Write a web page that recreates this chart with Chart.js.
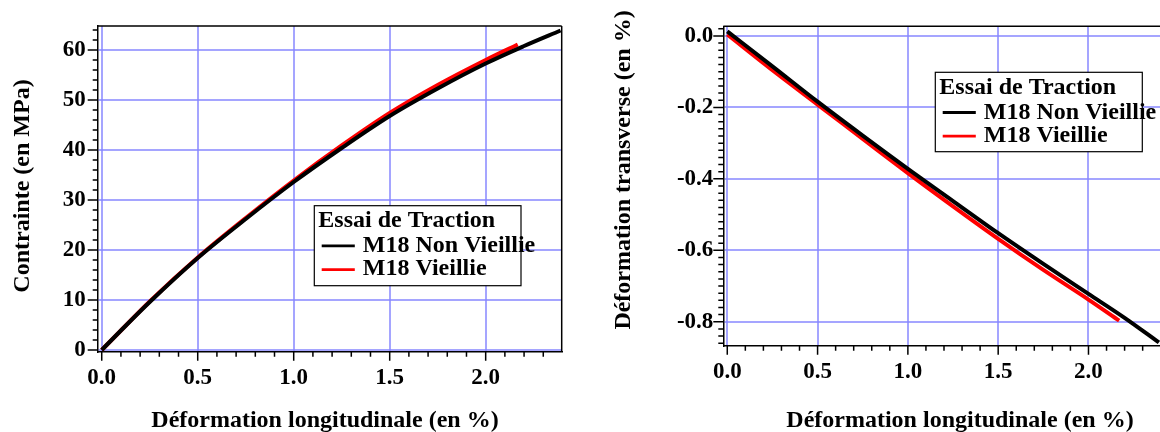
<!DOCTYPE html>
<html>
<head>
<meta charset="utf-8">
<script src="https://cdn.jsdelivr.net/npm/chart.js@4/dist/chart.umd.min.js"></script>
<style>
  html, body { margin: 0; padding: 0; background: #fff; }
  body { width: 1160px; height: 432px; position: relative; overflow: hidden; }
  .panel { position: absolute; top: 0; width: 580px; height: 432px; }
  #p1 { left: 0; }
  #p2 { left: 580px; }
</style>
</head>
<body>
<div class="panel" id="p1"><canvas id="c1" width="580" height="432"></canvas></div>
<div class="panel" id="p2"><canvas id="c2" width="580" height="432"></canvas></div>
<script>
// ---------- data ----------
const seriesNames = ['M18 Non Vieillie', 'M18 Vieillie'];
const legendTitle = 'Essai de Traction';
const xAxisTitle = 'Déformation longitudinale (en %)';
const leftYTitle = 'Contrainte (en MPa)';
const rightYTitle = 'Déformation transverse (en %)';

const xTickValues = [0, 0.5, 1, 1.5, 2];
const xTickLabels = ['0.0', '0.5', '1.0', '1.5', '2.0'];
const leftYTickValues = [0, 10, 20, 30, 40, 50, 60];
const leftYTickLabels = ['0', '10', '20', '30', '40', '50', '60'];
const rightYTickValues = [0, -0.2, -0.4, -0.6, -0.8];
const rightYTickLabels = ['0.0', '-0.2', '-0.4', '-0.6', '-0.8'];

// Left chart: stress vs longitudinal strain
const leftStrainNV = [0, 0.1, 0.25, 0.5, 0.75, 1.0, 1.25, 1.5, 1.75, 2.0, 2.2, 2.39];
const leftStressNV = [0, 3.9, 9.6, 18.4, 26.2, 33.6, 40.4, 46.8, 52.3, 57.3, 60.8, 63.9];
const leftStrainV  = [0, 0.1, 0.25, 0.5, 0.75, 1.0, 1.25, 1.5, 1.75, 2.0, 2.167];
const leftStressV  = [0, 3.9, 9.7, 18.5, 26.4, 33.9, 40.9, 47.4, 53.0, 58.0, 61.1];

// Right chart: transverse strain vs longitudinal strain
const rightStrainNV = [0, 0.25, 0.5, 0.75, 1.0, 1.25, 1.5, 1.75, 2.0, 2.2, 2.39];
const rightTransNV  = [0.013, -0.085, -0.184, -0.279, -0.372, -0.462, -0.552, -0.638, -0.722, -0.789, -0.858];
const rightStrainV  = [0, 0.25, 0.5, 0.75, 1.0, 1.25, 1.5, 1.75, 2.0, 2.17];
const rightTransV   = [0.004, -0.096, -0.192, -0.288, -0.384, -0.477, -0.568, -0.655, -0.738, -0.797];

const seriesColors = ['#000000', '#ff0000'];

// ---------- helpers ----------
const FONT_FAMILY = "'Liberation Serif', 'Times New Roman', serif";
const GRID_COLOR = 'rgba(135,135,255,0.75)';

function pts(xs, ys) { return xs.map((x, i) => ({ x: x, y: ys[i] })); }

const decorPlugin = {
  id: 'decor',
  afterDraw(chart, args, o) {
    const ctx = chart.ctx;
    const ca = chart.chartArea;
    const xs = chart.scales.x, ys = chart.scales.y;
    ctx.save();
    // frame (top / right)
    ctx.strokeStyle = '#000';
    ctx.lineWidth = 1.5;
    ctx.beginPath();
    ctx.moveTo(ca.left, ca.top); ctx.lineTo(ca.right, ca.top);
    if (o.rightBorder) { ctx.moveTo(ca.right, ca.top); ctx.lineTo(ca.right, ca.bottom); }
    ctx.stroke();
    // tick marks (major + minor)
    ctx.lineWidth = 1.5;
    ctx.beginPath();
    const kx0 = Math.ceil(xs.min / o.xMinor - 1e-9), kx1 = Math.floor(xs.max / o.xMinor + 1e-9);
    for (let k = kx0; k <= kx1; k++) {
      const px = xs.getPixelForValue(k * o.xMinor);
      const len = (k % o.xRatio === 0) ? 9 : 5;
      ctx.moveTo(px, ca.bottom); ctx.lineTo(px, ca.bottom + len);
    }
    const ky0 = Math.ceil(ys.min / o.yMinor - 1e-9), ky1 = Math.floor(ys.max / o.yMinor + 1e-9);
    for (let k = ky0; k <= ky1; k++) {
      const py = ys.getPixelForValue(k * o.yMinor);
      const len = (k % o.yRatio === 0) ? 10 : 5;
      ctx.moveTo(ca.left, py); ctx.lineTo(ca.left - len, py);
    }
    ctx.stroke();

    // axis titles
    ctx.fillStyle = '#000';
    ctx.font = 'bold 24px ' + FONT_FAMILY;
    ctx.textAlign = 'center';
    ctx.textBaseline = 'alphabetic';
    ctx.fillText(o.xTitle, o.xTitlePos[0], o.xTitlePos[1]);
    ctx.save();
    ctx.translate(o.yTitlePos[0], o.yTitlePos[1]);
    ctx.rotate(-Math.PI / 2);
    ctx.fillText(o.yTitle, 0, 0);
    ctx.restore();

    // legend box
    const L = o.legend;
    ctx.fillStyle = '#fff';
    ctx.fillRect(L.x, L.y, L.w, L.h);
    ctx.strokeStyle = '#000';
    ctx.lineWidth = 1.2;
    ctx.strokeRect(L.x, L.y, L.w, L.h);
    ctx.fillStyle = '#000';
    ctx.textAlign = 'left';
    ctx.font = 'bold 24px ' + FONT_FAMILY;
    ctx.fillText(L.title, L.x + 4, L.y + 21.6);
    const lineYs = [40.2, 63.9], textYs = [46.2, 69.7];
    chart.data.datasets.forEach((ds, i) => {
      ctx.strokeStyle = ds.borderColor;
      ctx.lineWidth = 2.8;
      ctx.beginPath();
      ctx.moveTo(L.x + 7.4, L.y + lineYs[i]); ctx.lineTo(L.x + 40.5, L.y + lineYs[i]);
      ctx.stroke();
      ctx.fillStyle = '#000';
      ctx.fillText(ds.label, L.x + 48.5, L.y + textYs[i]);
    });
    ctx.restore();
  }
};

function makeChart(id, cfg) {
  return new Chart(document.getElementById(id), {
    type: 'line',
    data: {
      datasets: [
        { label: seriesNames[0], data: cfg.d0, borderColor: seriesColors[0], borderWidth: 4,
          pointRadius: 0, cubicInterpolationMode: 'monotone', fill: false },
        { label: seriesNames[1], data: cfg.d1, borderColor: seriesColors[1], borderWidth: 4,
          pointRadius: 0, cubicInterpolationMode: 'monotone', fill: false }
      ]
    },
    options: {
      responsive: false,
      animation: false,
      devicePixelRatio: 1,
      layout: { padding: cfg.padding },
      plugins: {
        legend: { display: false },
        tooltip: { enabled: false },
        decor: cfg.decor
      },
      scales: {
        x: {
          type: 'linear',
          min: cfg.xMin, max: cfg.xMax,
          afterFit: (s) => { s.height = cfg.xAxisH; },
          afterBuildTicks: (s) => { s.ticks = xTickValues.map(v => ({ value: v })); },
          grid: { color: GRID_COLOR, lineWidth: 2, drawTicks: false },
          border: { display: true, color: '#000', width: 1.5 },
          ticks: {
            padding: 13, color: '#000', maxRotation: 0, autoSkip: false,
            font: { family: FONT_FAMILY, size: 23, weight: 'bold' },
            callback: (v) => { const i = xTickValues.findIndex(t => Math.abs(t - v) < 1e-9); return i >= 0 ? xTickLabels[i] : ''; }
          }
        },
        y: {
          type: 'linear',
          min: cfg.yMin, max: cfg.yMax,
          afterFit: (s) => { s.width = cfg.yAxisW; },
          afterBuildTicks: (s) => { s.ticks = cfg.yVals.map(v => ({ value: v })); },
          grid: { color: GRID_COLOR, lineWidth: 2, drawTicks: false },
          border: { display: true, color: '#000', width: 1.5 },
          ticks: {
            padding: cfg.yPad, color: '#000', autoSkip: false,
            font: { family: FONT_FAMILY, size: 23, weight: 'bold' },
            callback: (v) => { const i = cfg.yVals.findIndex(t => Math.abs(t - v) < 1e-9); return i >= 0 ? cfg.yLabels[i] : ''; }
          }
        }
      }
    },
    plugins: [decorPlugin]
  });
}

makeChart('c1', {
  d0: pts(leftStrainNV, leftStressNV),
  d1: pts(leftStrainV, leftStressV),
  xMin: -0.021, xMax: 2.396, yMin: -0.34, yMax: 64.8,
  padding: { top: 26, right: 18.3, left: 0, bottom: 0 },
  yAxisW: 97.7, xAxisH: 80.3, yPad: 12,
  yVals: leftYTickValues, yLabels: leftYTickLabels,
  decor: {
    rightBorder: true, xMinor: 0.1, xRatio: 5, yMinor: 2, yRatio: 5,
    xTitle: xAxisTitle, xTitlePos: [325, 426.5],
    yTitle: leftYTitle, yTitlePos: [28.5, 186],
    legend: { x: 314.3, y: 205.7, w: 206.7, h: 80, title: legendTitle }
  }
});

makeChart('c2', {
  d0: pts(rightStrainNV, rightTransNV),
  d1: pts(rightStrainV, rightTransV),
  xMin: -0.022, xMax: 2.396, yMin: -0.867, yMax: 0.027,
  padding: { top: 26.3, right: 0, left: 0, bottom: 0 },
  yAxisW: 143.3, xAxisH: 86.3, yPad: 10,
  yVals: rightYTickValues, yLabels: rightYTickLabels,
  decor: {
    rightBorder: false, xMinor: 0.1, xRatio: 5, yMinor: 0.02, yRatio: 10,
    xTitle: xAxisTitle, xTitlePos: [380, 426.5],
    yTitle: rightYTitle, yTitlePos: [49.5, 170],
    legend: { x: 355.3, y: 72.3, w: 207, h: 79.4, title: legendTitle }
  }
});
</script>
</body>
</html>
